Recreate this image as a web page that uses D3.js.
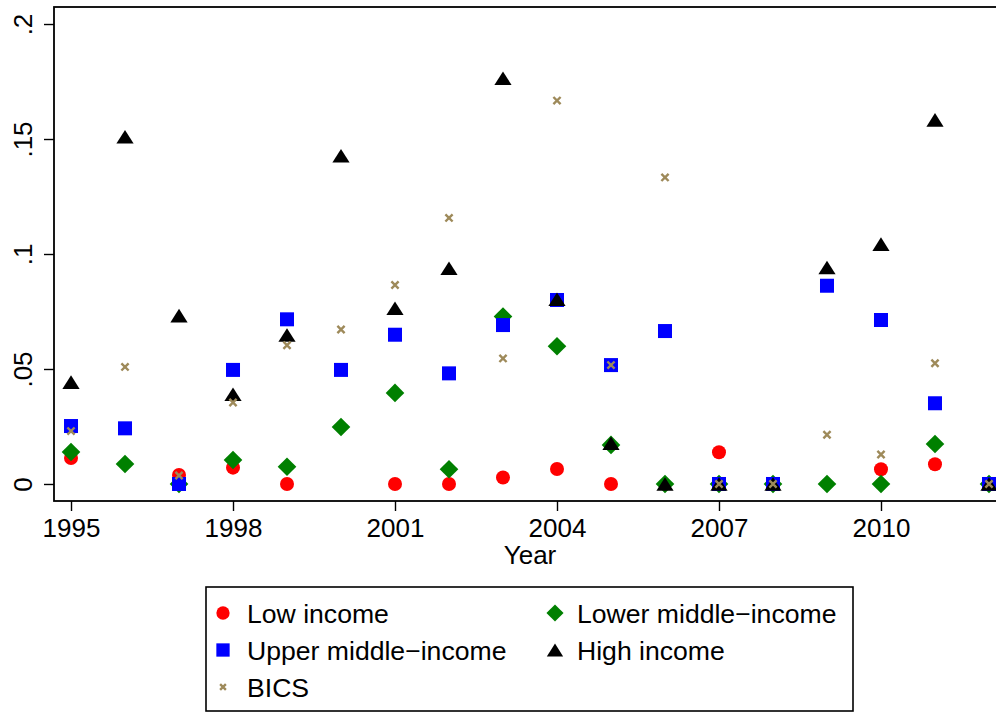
<!DOCTYPE html>
<html>
<head>
<meta charset="utf-8">
<script src="https://cdn.jsdelivr.net/npm/d3@7"></script>
<style>
  html, body { margin: 0; padding: 0; background: #fff; overflow: hidden; }
  svg { display: block; font-family: "Liberation Sans", Arial, Helvetica, sans-serif; }
</style>
</head>
<body>
<div id="chart"></div>
<script>
// Share by income group, 1995-2012 (null = no observation)
const years = [1995, 1996, 1997, 1998, 1999, 2000, 2001, 2002, 2003, 2004, 2005, 2006, 2007, 2008, 2009, 2010, 2011, 2012];

const lowIncome   = [0.0113, null, 0.0039, 0.0071, 0, null, 0, 0, 0.0028, 0.0065, 0, null, 0.0138, 0, null, 0.0064, 0.0086, 0];
const lowerMiddle = [0.0139, 0.0087, 0, 0.0104, 0.0075, 0.0248, 0.0396, 0.0064, 0.0728, 0.0599, 0.0170, 0, 0, 0, 0, 0, 0.0174, 0];
const upperMiddle = [0.0252, 0.0242, 0, 0.0496, 0.0716, 0.0496, 0.0649, 0.0481, 0.0691, 0.0800, 0.0517, 0.0665, 0, 0, 0.0862, 0.0713, 0.0351, 0];
const highIncome  = [0.0443, 0.1510, 0.0732, 0.0390, 0.0648, 0.1427, 0.0764, 0.0938, 0.1764, 0.0803, 0.0177, 0, 0, 0, 0.0941, 0.1043, 0.1583, 0];
const bics        = [0.0230, 0.0509, 0.0037, 0.0354, 0.0603, 0.0672, 0.0865, 0.1157, 0.0546, 0.1667, 0.0517, 0.1333, 0, 0, 0.0214, 0.0128, 0.0525, 0];

const xTicks = [1995, 1998, 2001, 2004, 2007, 2010];
const yTicks = [0, 0.05, 0.1, 0.15, 0.2];
const yTickLabels = ["0", ".05", ".1", ".15", ".2"];

// draw order = legend order
const series = [
    { name: "Low income",          values: lowIncome,   symbol: "circle",   color: "#ff0000" },
    { name: "Lower middle\u2212income", values: lowerMiddle, symbol: "diamond",  color: "#008000" },
    { name: "Upper middle\u2212income", values: upperMiddle, symbol: "square",   color: "#0000ff" },
    { name: "High income",         values: highIncome,  symbol: "triangle", color: "#000000" },
    { name: "BICS",                values: bics,        symbol: "cross",    color: "#9e8a5a" }
];

const W = 996, H = 713;
const plot = { left: 54, top: 7, right: 1006, bottom: 501 };
const fontSize = 26;

const svg = d3.select("#chart").append("svg")
    .attr("width", W)
    .attr("height", H);

// Scales
const x = d3.scaleLinear()
    .domain([1994.685, 2012.315])
    .range([plot.left, plot.right]);

const y = d3.scaleLinear()
    .domain([-0.0074, 0.2074])
    .range([plot.bottom, plot.top]);

// Marker shapes (Stata-like)
function marker(sel, symbol, color, s = 1) {
    if (symbol === "circle") {
        sel.append("circle").attr("r", 7 * s).attr("fill", color);
    } else if (symbol === "square") {
        sel.append("rect").attr("x", -7 * s).attr("y", -7 * s)
            .attr("width", 14 * s).attr("height", 14 * s).attr("fill", color);
    } else if (symbol === "diamond") {
        const r = 9.3 * s;
        sel.append("path").attr("d", `M0,${-r}L${r},0L0,${r}L${-r},0Z`).attr("fill", color);
    } else if (symbol === "triangle") {
        const w = 8.6 * s, h = 6.8 * s;
        sel.append("path").attr("d", `M0,${-h}L${w},${h}L${-w},${h}Z`).attr("fill", color);
    } else if (symbol === "cross") {
        const c = 3.6 * s;
        sel.append("path").attr("d", `M${-c},${-c}L${c},${c}M${-c},${c}L${c},${-c}`)
            .attr("stroke", color).attr("stroke-width", 2.4).attr("fill", "none");
    }
}

// Plot frame
svg.append("rect")
    .attr("x", plot.left)
    .attr("y", plot.top)
    .attr("width", plot.right - plot.left)
    .attr("height", plot.bottom - plot.top)
    .attr("fill", "none")
    .attr("stroke", "#000")
    .attr("stroke-width", 1.8);

// X axis
const xAxis = svg.append("g")
    .attr("transform", `translate(0,${plot.bottom})`)
    .call(d3.axisBottom(x).tickValues(xTicks).tickFormat(d3.format("d")).tickSize(10).tickPadding(8));
xAxis.select(".domain").remove();
xAxis.selectAll(".tick line").attr("stroke", "#000").attr("stroke-width", 1.4);
xAxis.selectAll(".tick text")
    .attr("font-size", fontSize)
    .attr("font-family", "Liberation Sans, Arial, sans-serif")
    .attr("fill", "#000");

// Y axis
const yAxis = svg.append("g")
    .attr("transform", `translate(${plot.left},0)`)
    .call(d3.axisLeft(y).tickValues(yTicks).tickSize(10).tickFormat((d, i) => yTickLabels[i]));
yAxis.select(".domain").remove();
yAxis.selectAll(".tick line").attr("stroke", "#000").attr("stroke-width", 1.4);
yAxis.selectAll(".tick text")
    .attr("font-size", fontSize)
    .attr("font-family", "Liberation Sans, Arial, sans-serif")
    .attr("fill", "#000")
    .attr("x", null)
    .attr("dy", null)
    .attr("text-anchor", "middle")
    .attr("transform", "translate(-22,0) rotate(-90)");

// Axis title
svg.append("text")
    .attr("x", (plot.left + plot.right) / 2)
    .attr("y", 564)
    .attr("text-anchor", "middle")
    .attr("font-size", fontSize)
    .text("Year");

// Points
series.forEach(s => {
    const pts = years.map((yr, i) => ({ year: yr, v: s.values[i] })).filter(d => d.v !== null);
    svg.append("g").selectAll("g")
        .data(pts)
        .enter()
        .append("g")
        .attr("transform", d => `translate(${x(d.year)},${y(d.v)})`)
        .each(function () { marker(d3.select(this), s.symbol, s.color); });
});

// Legend
const legend = svg.append("g");
legend.append("rect")
    .attr("x", 206).attr("y", 587)
    .attr("width", 647).attr("height", 124)
    .attr("fill", "#fff")
    .attr("stroke", "#000")
    .attr("stroke-width", 1.6);

const colX = [223, 555];
const rowY = [613, 650, 687];
const legendScale = [0.95, 0.92, 0.95, 0.95, 0.8];

series.forEach((s, i) => {
    const col = i % 2, row = Math.floor(i / 2);
    const item = legend.append("g");
    const m = item.append("g").attr("transform", `translate(${colX[col]},${rowY[row]})`);
    marker(m, s.symbol, s.color, legendScale[i]);
    item.append("text")
        .attr("x", colX[col] + (col === 0 ? 24 : 22))
        .attr("y", rowY[row] + 9.5)
        .attr("font-size", 26.6)
        .text(s.name);
});
</script>
</body>
</html>
